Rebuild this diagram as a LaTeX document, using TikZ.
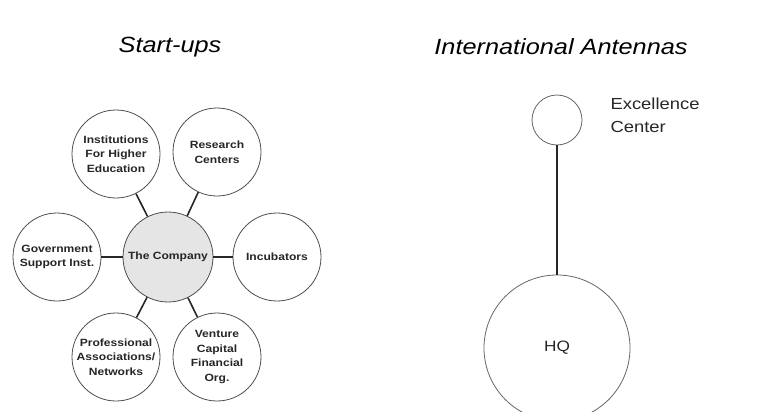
\documentclass[tikz,border=0pt]{standalone}
\usepackage{fontspec}
\setmainfont[FakeStretch=1.15]{Liberation Sans}
\begin{document}
\begin{tikzpicture}[x=1pt,y=-1pt,
  ring/.style={circle, draw=black!70, line width=0.8pt, inner sep=0pt,
    minimum size=88pt, align=center, text=black!85,
    font=\bfseries\fontsize{10.5}{14.5}\selectfont},
  hub/.style={ring, minimum size=90pt, fill=black!10},
  link/.style={line width=1.6pt, black!85},
  title/.style={font=\itshape\fontsize{22}{26}\selectfont},
  plain/.style={font=\fontsize{16}{23}\selectfont, text=black!85}]
\useasboundingbox (0,0) rectangle (760,412);
\clip (0,0) rectangle (760,412);

% Start-ups cluster
\node[title] (t1) at (170,47) {Start-ups};
\node[hub]  (co)  at (168,257) {The Company};
\node[ring] (inst) at (116,154) {Institutions\\For Higher\\Education};
\node[ring] (res)  at (217,152) {Research\\Centers};
\node[ring] (gov)  at (57,257)  {Government\\Support Inst.};
\node[ring] (inc)  at (277,257) {Incubators};
\node[ring] (prof) at (116,357) {Professional\\Associations/\\Networks};
\node[ring] (vc)   at (217,357) {Venture\\Capital\\Financial\\Org.};
\foreach \n in {inst,res,gov,inc,prof,vc}
  \draw[link] (co) -- (\n);

% International antennas
\node[title] (t2) at (561,47) {International Antennas};
\node[circle, draw=black!60, line width=0.8pt, minimum size=50pt, inner sep=0pt] (exc) at (557,120) {};
\node[plain, anchor=west, align=left] (excl) at (607,115) {Excellence\\Center};
\node[circle, draw=black!60, line width=0.8pt, minimum size=146pt, inner sep=0pt,
  font=\fontsize{15}{18}\selectfont, text=black!85] (hq) at (557,348) {HQ};
\draw[link, line width=1.4pt] (exc) -- (hq);
\end{tikzpicture}
\end{document}
